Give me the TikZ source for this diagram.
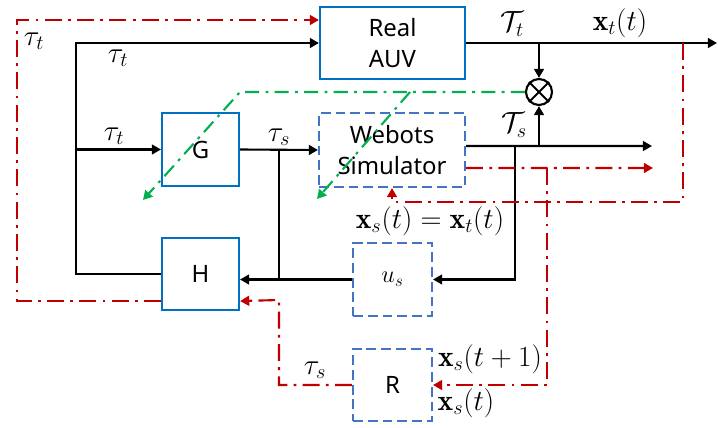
\documentclass[tikz,border=0pt]{standalone}
\usepackage{fontspec}
\usepackage{amsmath,amssymb}
\usetikzlibrary{arrows.meta,calc}
\newfontfamily\boxfont{Noto Sans}
\definecolor{boxblue}{HTML}{0070C0}
\definecolor{simblue}{HTML}{4472C4}
\definecolor{fbred}{HTML}{C00000}
\definecolor{ctrlgreen}{HTML}{00B050}

\begin{document}
\begin{tikzpicture}[x=0.025cm, y=-0.025cm, line width=1.5pt,
    sig/.style={-{Triangle[length=6.5pt,width=7pt]}},
    realbox/.style={draw=boxblue, align=center, inner sep=0pt,
        font=\boxfont\fontsize{17}{22}\selectfont},
    simbox/.style={draw=simblue, dash pattern=on 7pt off 3.5pt, align=center,
        inner sep=0pt, font=\boxfont\fontsize{17}{22}\selectfont},
    fb/.style={draw=fbred, dash pattern=on 12pt off 4.5pt on 2pt off 4.5pt},
    ctrl/.style={draw=ctrlgreen, dash pattern=on 10pt off 4.5pt on 2pt off 4.5pt},
    lbl/.style={font=\fontsize{21}{25}\selectfont, inner sep=0pt}]
    \useasboundingbox (0,0) rectangle (718,428);

    % Blocks
    \node[realbox, minimum width=3.625cm, minimum height=1.8cm] (real) at (392.5,43) {Real\\AUV};
    \node[realbox, minimum width=1.925cm, minimum height=1.825cm] (G) at (200.5,149.5) {G};
    \node[realbox, minimum width=1.925cm, minimum height=1.8cm] (H) at (200.5,274) {H};
    \node[simbox, minimum width=3.65cm, minimum height=1.85cm] (web) at (392,150) {Webots\\Simulator};
    \node[simbox, minimum width=1.975cm, minimum height=1.825cm] (us) at (392.5,279.5) {$u_s$};
    \node[simbox, minimum width=1.975cm, minimum height=1.8cm] (R) at (392.5,385) {R};
    \node[draw, circle, inner sep=0pt, minimum size=0.65cm] (mul) at (539,92) {};
    \draw (mul.north west) -- (mul.south east) (mul.north east) -- (mul.south west);

    % Junction points
    \coordinate (tl) at (76,43);
    \coordinate (out) at (717,43);
    \coordinate (jt) at (mul |- real.east);
    \coordinate (js) at ($(G.east)!0.5!(web.west)$);
    \coordinate (wo) at ([yshift=0.1cm]web.east);
    \coordinate (wend) at (652,146);
    \coordinate (jx) at (515,146);
    \coordinate (rl) at (17,20);
    \coordinate (jr) at (683,43);
    \coordinate (wb) at (392,202);
    \coordinate (wr) at ([yshift=-0.45cm]web.east);
    \coordinate (rend) at (653,168);
    \coordinate (jrr) at (547,168);
    \coordinate (rh) at (279,300);
    \coordinate (gk) at (240,92);
    \coordinate (gk2) at (410,92);
    \coordinate (ga) at (143,200);
    \coordinate (ga2) at (317,199);

    % Real torque path
    \draw[sig] (H.west) -| (tl) -- (real.west);
    \draw[sig] (tl |- G.west) -- (G.west);
    \draw[sig] (G.east) -- (web.west);
    \draw (js) -- (js |- us.west);
    \draw[sig] (us.west) -- (H.east |- us.west);
    \draw[sig] (real.east) -- (out);
    \draw[sig] (jt) -- (mul.north);

    % Simulator output
    \draw[sig] (wo) -- (wend);
    \draw[sig] (mul |- wo) -- (mul.south);
    \draw[sig] (jx) |- (us.east);

    % Red feedback lines
    \draw[fb, sig] ([yshift=0.25cm]H.south west) -| (rl) -- (rl -| real.west);
    \draw[fb, sig] (jr) |- (wb) -- (web.south);
    \draw[fb, sig] (wr) -- (rend);
    \draw[fb, sig] (jrr) |- (R.east);
    \draw[fb, sig] (R.west) -| (rh) -- ([yshift=0.25cm]H.south east);

    % Green error line
    \draw[ctrl, sig] (mul.west) -- (gk) -- (ga);
    \draw[ctrl, sig] (gk2) -- (ga2);

    % Labels
    \node[lbl] at (34,41) {$\tau_t$};
    \node[lbl] at (118,58) {$\tau_t$};
    \node[lbl] at (114,136) {$\tau_t$};
    \node[lbl] at (279,137) {$\tau_s$};
    \node[lbl] at (512,24) {$\mathcal{T}_t$};
    \node[lbl] at (620,23) {$\mathbf{x}_t(t)$};
    \node[lbl] at (514,125) {$\mathcal{T}_s$};
    \node[lbl] at (430,221) {$\mathbf{x}_s(t)=\mathbf{x}_t(t)$};
    \node[lbl] at (490,359) {$\mathbf{x}_s(t+1)$};
    \node[lbl] at (466,403) {$\mathbf{x}_s(t)$};
    \node[lbl] at (315,370) {$\tau_s$};
\end{tikzpicture}
\end{document}
